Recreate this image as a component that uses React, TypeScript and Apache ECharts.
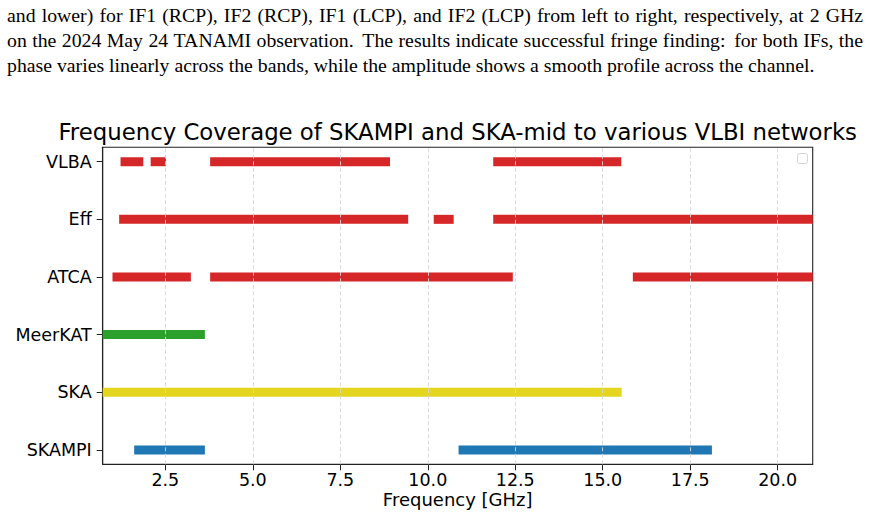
import React, { useEffect, useRef } from "react";
import * as echarts from "echarts";

// ---- data ----
const categories = ["SKAMPI", "SKA", "MeerKAT", "ATCA", "Eff", "VLBA"];
const categoryColors = ["#1f77b4", "#e4d61e", "#2ca02c", "#d62728", "#d62728", "#d62728"];
const skampiBands = [[1.61, 3.63], [10.88, 18.12]];
const skaBands = [[0.35, 15.54]];
const meerkatBands = [[0.58, 3.63]];
const atcaBands = [[0.99, 3.23], [3.78, 12.43], [15.86, 25.0]];
const effBands = [[1.18, 9.44], [10.17, 10.74], [11.87, 43.0]];
const vlbaBands = [[1.22, 1.87], [2.08, 2.52], [3.78, 8.92], [11.87, 15.53]];
const xTicks = [2.5, 5.0, 7.5, 10.0, 12.5, 15.0, 17.5, 20.0];
const xMin = 0.71;
const xMax = 21.0;

const titleText = "Frequency Coverage of SKAMPI and SKA-mid to various VLBI networks";
const xLabelText = "Frequency [GHz]";
const paperLines = [
  "and lower) for IF1 (RCP), IF2 (RCP), IF1 (LCP), and IF2 (LCP) from left to right, respectively, at 2 GHz",
  "on the 2024 May 24 TANAMI observation. The results indicate successful fringe finding: for both IFs, the",
  "phase varies linearly across the bands, while the amplitude shows a smooth profile across the channel.",
];

const allBands = [skampiBands, skaBands, meerkatBands, atcaBands, effBands, vlbaBands];

function buildPaperText() {
  const canvas = document.createElement("canvas");
  const ctx = canvas.getContext("2d")!;
  const fam = "'Liberation Serif', 'Times New Roman', serif";
  ctx.font = `100px ${fam}`;
  const w100 = ctx.measureText(paperLines[2]).width;
  const fs = (100 * 808) / w100;
  ctx.font = `${fs}px ${fam}`;
  const spaceW = ctx.measureText(" ").width;
  const left = 7;
  const right = 863;
  const baselines = [21.7, 46.7, 71.7];
  const els: any[] = [];
  paperLines.forEach((line, li) => {
    const words = line.split(" ");
    const widths = words.map((w) => ctx.measureText(w).width);
    const weights = words.slice(0, -1).map((w) => (/[.:]$/.test(w) ? 1.6 : 1));
    const totalW = widths.reduce((a, b) => a + b, 0);
    const wsum = weights.reduce((a, b) => a + b, 0);
    const justify = li < paperLines.length - 1;
    const unit = justify ? (right - left - totalW) / wsum : spaceW;
    let x = left;
    const yMid = baselines[li] - 0.34 * fs;
    words.forEach((w, i) => {
      els.push({
        type: "text",
        x,
        y: yMid,
        silent: true,
        style: {
          text: w,
          font: `${fs}px ${fam}`,
          fill: "#000",
          align: "left",
          verticalAlign: "middle",
          textAlign: "left",
          textVerticalAlign: "middle",
        },
      });
      x += widths[i] + (i < weights.length ? unit * weights[i] : 0);
    });
  });
  return els;
}

export default function App() {
  const ref = useRef<HTMLDivElement>(null);
  useEffect(() => {
    if (!ref.current) return;
    const chart = echarts.init(ref.current, null, { renderer: "svg" });
    const data: number[][] = [];
    allBands.forEach((bands, ci) => bands.forEach((b) => data.push([b[0], b[1], ci])));
    const font = "DejaVu Sans";
    const gridLeft = 102.7;
    const gridRight = 870 - 812.7;
    const gridTop = 147.3;
    const gridBottom = 516 - 464.3;

    const option: any = {
      animation: false,
      backgroundColor: "#fff",
      grid: {
        left: gridLeft,
        right: gridRight,
        top: gridTop,
        bottom: gridBottom,
        show: true,
        borderColor: "#222",
        borderWidth: 1.1,
        backgroundColor: "transparent",
      },
      xAxis: {
        type: "value",
        min: xMin,
        max: xMax,
        axisLine: { show: true, onZero: false, lineStyle: { color: "#222", width: 1.1 } },
        axisTick: { show: true, length: 6, customValues: xTicks, lineStyle: { color: "#222", width: 1 } },
        axisLabel: {
          show: true,
          customValues: xTicks,
          formatter: (v: number) => v.toFixed(1),
          fontFamily: font,
          fontSize: 17.5,
          color: "#000",
          margin: 7,
        },
        splitLine: { show: false },
      },
      yAxis: {
        type: "value",
        min: -0.25,
        max: 5.25,
        axisLine: { show: true, onZero: false, lineStyle: { color: "#222", width: 1.1 } },
        axisTick: { show: true, length: 6, customValues: [0, 1, 2, 3, 4, 5], lineStyle: { color: "#222", width: 1 } },
        axisLabel: {
          show: true,
          customValues: [0, 1, 2, 3, 4, 5],
          formatter: (v: number) => categories[Math.round(v)] ?? "",
          fontFamily: font,
          fontSize: 17.5,
          color: "#000",
          margin: 11,
        },
        splitLine: { show: false },
      },
      series: [
        {
          type: "line",
          data: [],
          z: 1,
          silent: true,
          markLine: {
            silent: true,
            symbol: "none",
            animation: false,
            label: { show: false },
            lineStyle: { color: "#d6d6d6", width: 0.9, type: [4, 2.5] },
            data: xTicks.map((v) => ({ xAxis: v })),
          },
        },
        {
          type: "custom",
          z: 2,
          data,
          encode: { x: [0, 1], y: 2 },
          renderItem: (params: any, api: any) => {
            const c = api.value(2);
            const p0 = api.coord([api.value(0), c]);
            const p1 = api.coord([api.value(1), c]);
            const h = 9;
            const cs = params.coordSys;
            const shape = echarts.graphic.clipRectByRect(
              { x: p0[0], y: p0[1] - h / 2, width: p1[0] - p0[0], height: h },
              { x: cs.x, y: cs.y, width: cs.width, height: cs.height }
            );
            if (!shape) return null;
            return { type: "rect", shape, style: { fill: categoryColors[c] } };
          },
        },
      ],
      graphic: [
        {
          type: "text",
          x: 457.7,
          y: 131.5,
          silent: true,
          style: {
            text: titleText,
            font: `22.8px '${font}'`,
            fill: "#000",
            align: "center",
            verticalAlign: "middle",
            textAlign: "center",
            textVerticalAlign: "middle",
          },
        },
        {
          type: "text",
          x: 457.7,
          y: 499.5,
          silent: true,
          style: {
            text: xLabelText,
            font: `18px '${font}'`,
            fill: "#000",
            align: "center",
            verticalAlign: "middle",
            textAlign: "center",
            textVerticalAlign: "middle",
          },
        },
        {
          type: "rect",
          shape: { x: 797.5, y: 153.5, width: 10, height: 10, r: 2 },
          silent: true,
          style: { fill: "#fff", stroke: "#d4d4d4", lineWidth: 1 },
        },
        ...buildPaperText(),
      ],
    };
    chart.setOption(option);
    return () => chart.dispose();
  }, []);
  return (
    <div
      ref={ref}
      style={{ position: "fixed", left: 0, top: 0, width: 870, height: 516, background: "#fff" }}
    />
  );
}
